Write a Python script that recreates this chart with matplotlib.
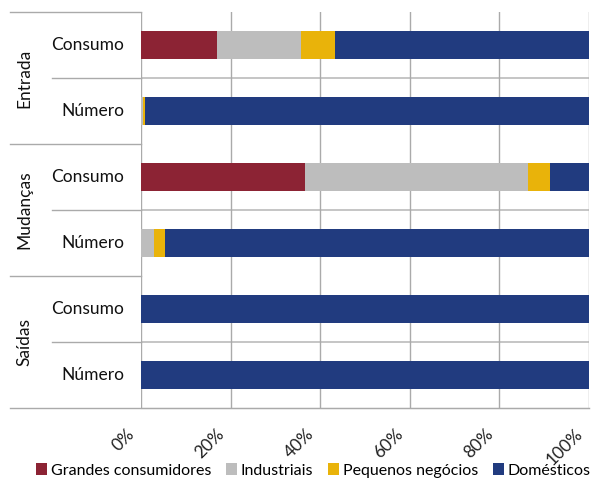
import matplotlib.pyplot as plt
from matplotlib.lines import Line2D
from matplotlib.ticker import PercentFormatter
from matplotlib.transforms import ScaledTranslation

plt.rcParams["font.family"] = ["Lato", "DejaVu Sans"]

groups = ["Entrada", "Mudanças", "Saídas"]
categories = ["Consumo", "Número"]
segments = ["Grandes consumidores", "Industriais", "Pequenos negócios", "Domésticos"]
colors = ["#8C2334", "#BDBDBD", "#E9B30A", "#213B7F"]

# percent shares, rows: Entrada C/N, Mudanças C/N, Saídas C/N
grandes = [17.0, 0.05, 36.7, 0.0, 0.0, 0.0]
industriais = [18.7, 0.3, 49.6, 2.8, 0.0, 0.0]
pequenos = [7.6, 0.6, 4.9, 2.5, 0.0, 0.0]
domesticos = [56.7, 99.05, 8.8, 94.7, 100.0, 100.0]

W, H = 591, 484
fig = plt.figure(figsize=(W / 100, H / 100), dpi=100)
left, right, top, bottom = 141, 589, 12, 408
ax = fig.add_axes([left / W, 1 - bottom / H, (right - left) / W, (bottom - top) / H])

rows = list(range(len(groups) * len(categories)))
acc = [0.0] * len(rows)
for name, vals, col in zip(segments, [grandes, industriais, pequenos, domesticos], colors):
    ax.barh(rows, vals, left=acc, height=0.41, color=col, label=name, zorder=3)
    acc = [a + v for a, v in zip(acc, vals)]

ax.set_xlim(0, 100)
ax.set_ylim(len(rows) - 0.5, -0.5)
ax.set_xticks(range(0, 101, 20))
ax.xaxis.set_major_formatter(PercentFormatter(decimals=0))
ax.tick_params(axis="x", length=0, pad=17, labelsize=12.5, labelcolor="#222222")
shift = ScaledTranslation(-9 / 100, 0, fig.dpi_scale_trans)
for lab in ax.get_xticklabels():
    lab.set_rotation(45)
    lab.set_ha("right")
    lab.set_va("center")
    lab.set_rotation_mode("anchor")
    lab.set_transform(lab.get_transform() + shift)
ax.set_yticks([])
ax.grid(axis="x", color="#AAAAAA", linewidth=1, zorder=0)
for sp in ["top", "right", "left"]:
    ax.spines[sp].set_visible(False)
ax.spines["bottom"].set_color("#AAAAAA")

# separators between categories inside a group
for g in range(len(groups)):
    ax.axhline(g * 2 + 0.5, color="#BBBBBB", linewidth=1.2, zorder=1)

# left-hand category and group labels
def fy(row_edge):
    return 1 - (top + (row_edge + 0.5) * (bottom - top) / len(rows)) / H

for g, gname in enumerate(groups):
    for c, cname in enumerate(categories):
        r = g * 2 + c
        fig.text(124 / W, fy(r), cname, ha="right", va="center", fontsize=12.5, color="#111111")
    fig.text(24 / W, fy(g * 2 + 0.5), gname, ha="center", va="center", rotation=90,
             fontsize=12.5, color="#111111")
    fig.add_artist(Line2D([52 / W, left / W], [fy(g * 2 + 0.5)] * 2, color="#AAAAAA", linewidth=1))
for g in range(len(groups) + 1):
    y = fy(g * 2 - 0.5)
    x1 = right if g == len(groups) else left
    fig.add_artist(Line2D([10 / W, x1 / W], [y, y], color="#AAAAAA", linewidth=1))

fig.legend(loc="lower center", bbox_to_anchor=(0.53, 0.0), ncol=4, frameon=False,
           fontsize=11.5, handlelength=0.7, handleheight=0.7, handletextpad=0.25,
           columnspacing=0.9, borderaxespad=0.0)

fig.savefig("out.png", dpi=100)
